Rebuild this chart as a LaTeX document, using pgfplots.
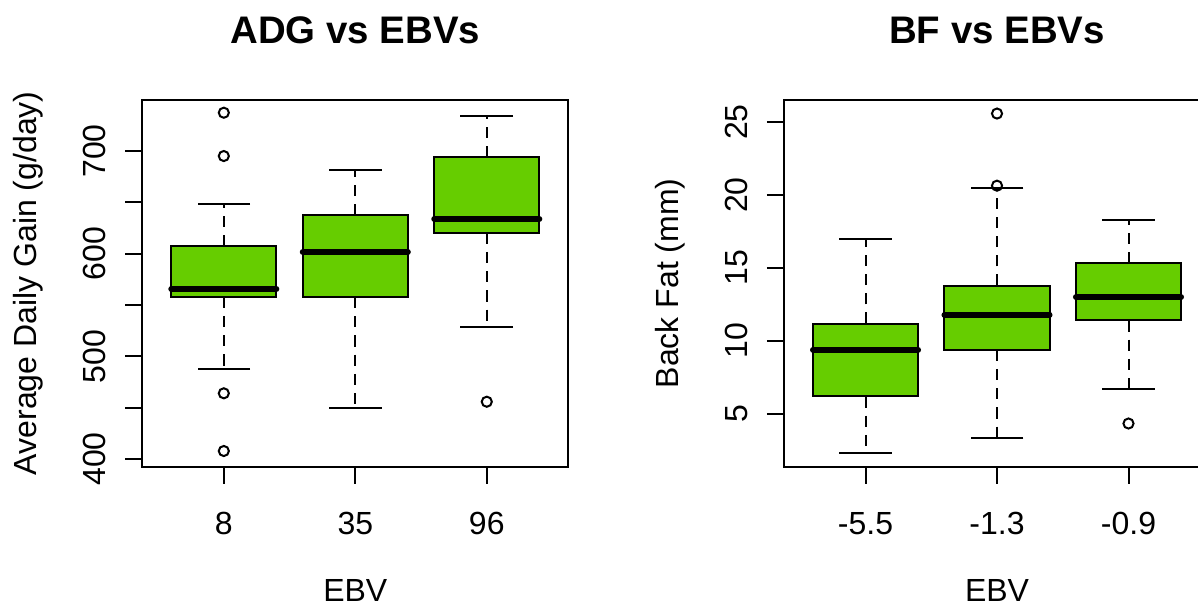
\documentclass[border=0pt]{standalone}
\usepackage{fontspec}
\setmainfont{Liberation Sans}
\usepackage{pgfplots}
\pgfplotsset{compat=1.18}
\usepgfplotslibrary{statistics}
\definecolor{boxgreen}{RGB}{102,205,0}
\pgfplotsset{
  rbox/.style={
    scale only axis, width=159.75pt, height=137.44pt, anchor=south west,
    xmin=0.38, xmax=3.62, xtick={1,2,3},
    tick align=outside, xtick pos=lower, ytick pos=left,
    major tick length=6.4pt, minor tick num=0,
    axis line style={line width=0.75pt},
    every tick/.style={black, line width=0.75pt},
    tick label style={font=\fontsize{12}{14}\selectfont},
    xticklabel style={anchor=north, inner xsep=0pt, inner ysep=10.9pt, outer sep=0pt},
    yticklabel style={rotate=90, anchor=south, inner xsep=0pt, inner ysep=7.35pt, outer sep=0pt},
    title style={at={(0.5,1.1473)}, anchor=center, inner sep=0pt, font=\bfseries\fontsize{14.4}{17}\selectfont},
    xlabel style={at={(0.5,-0.3690)}, anchor=base, inner sep=0pt, font=\fontsize{12}{14}\selectfont},
    ylabel style={at={(-0.2476,0.5)}, anchor=base, inner sep=0pt, font=\fontsize{12}{14}\selectfont},
    xlabel={EBV},
    boxplot/draw direction=y,
    boxplot/box extend=0.8, boxplot/whisker extend=0,
    boxplot/every box/.style={draw=black, fill=boxgreen, line width=0.75pt},
    boxplot/every median/.style={line width=2.2pt, line cap=round},
    boxplot/every whisker/.style={line width=0.75pt, dash pattern=on 4.2pt off 3pt},
  },
  bx/.style={black, line width=0.75pt, mark=o, mark size=1.9pt,
    mark options={solid, line width=0.75pt, fill=none}},
  caps/.style={black, only marks, mark=-, mark size=9.86pt,
    mark options={solid, line width=0.75pt}},
}
\begin{document}
\begin{tikzpicture}
\useasboundingbox (0,0) rectangle (449.25pt,227.25pt);
\clip (0,0) rectangle (449.25pt,227.25pt);
\begin{axis}[rbox, at={(53.36pt,52.31pt)},
  ymin=392.7, ymax=749.7,
  ytick={400,450,500,550,600,650,700},
  yticklabels={400,{},500,{},600,{},700},
  xticklabels={8,35,96},
  title={ADG vs EBVs},
  ylabel={Average Daily Gain (g/day)}]
\addplot[bx, boxplot prepared={draw position=1, lower whisker=487.4, lower quartile=558,
  median=565.6, upper quartile=607.5, upper whisker=648.7}]
  coordinates {(1,737.3) (1,695.1) (1,464) (1,407.8)};
\addplot[bx, boxplot prepared={draw position=2, lower whisker=449.7, lower quartile=557.8,
  median=601.6, upper quartile=637.7, upper whisker=681.5}]
  coordinates {};
\addplot[bx, boxplot prepared={draw position=3, lower whisker=528.9, lower quartile=620.4,
  median=633.8, upper quartile=694.1, upper whisker=734.4}]
  coordinates {(3,455.8)};
\addplot[caps] coordinates {(1,487.4) (1,648.7) (2,449.7) (2,681.5) (3,528.9) (3,734.4)};
\end{axis}
\begin{axis}[rbox, at={(294pt,52.31pt)},
  ymin=1.37, ymax=26.52,
  ytick={5,10,15,20,25},
  yticklabels={5,10,15,20,25},
  xticklabels={-5.5,-1.3,-0.9},
  title={BF vs EBVs},
  ylabel={Back Fat (mm)}]
\addplot[bx, boxplot prepared={draw position=1, lower whisker=2.30, lower quartile=6.18,
  median=9.38, upper quartile=11.18, upper whisker=16.99}]
  coordinates {};
\addplot[bx, boxplot prepared={draw position=2, lower whisker=3.36, lower quartile=9.38,
  median=11.78, upper quartile=13.79, upper whisker=20.45}]
  coordinates {(2,20.64) (2,25.59)};
\addplot[bx, boxplot prepared={draw position=3, lower whisker=6.66, lower quartile=11.39,
  median=12.99, upper quartile=15.34, upper whisker=18.31}]
  coordinates {(3,4.32)};
\addplot[caps] coordinates {(1,2.30) (1,16.99) (2,3.36) (2,20.45) (3,6.66) (3,18.31)};
\end{axis}
\end{tikzpicture}
\end{document}
